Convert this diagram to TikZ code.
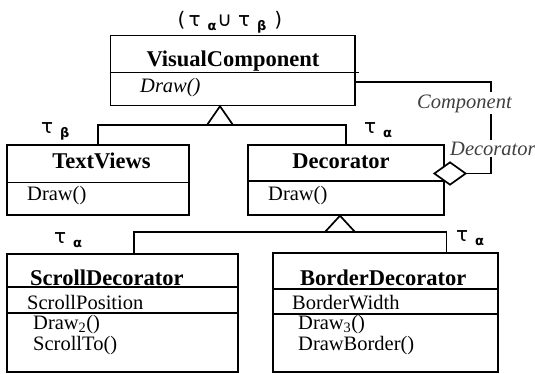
\documentclass[tikz,border=0pt]{standalone}
\usepackage{fontspec}
\setmainfont{Liberation Serif}
\newfontfamily\greekfont{DejaVu Sans}
\usetikzlibrary{arrows.meta,shapes.geometric,positioning,calc}

% type set label: tau with a lowered bold index
\newcommand{\tausub}[1]{τ\hspace{7pt}\raisebox{-4pt}{\fontsize{13}{13}\selectfont\bfseries #1}}

\begin{document}
\begin{tikzpicture}[x=1pt, y=-1pt,
    classbox/.style={draw, line width=1.7pt, inner sep=0pt, anchor=north west},
    classname/.style={font=\fontsize{22.5}{26}\selectfont\bfseries, inner sep=0pt, anchor=base},
    member/.style={font=\fontsize{20.5}{24}\selectfont, inner sep=0pt, anchor=base west},
    role/.style={font=\fontsize{20.5}{24}\selectfont\itshape, text=black!75, fill=white, inner sep=2pt, anchor=base west},
    tlabel/.style={font=\greekfont\fontsize{20}{22}\selectfont, inner sep=0pt, anchor=base west},
    conn/.style={line width=1.7pt},
    gen/.style={conn, fill=white, line join=miter}
]
\useasboundingbox (0,0) rectangle (535,373);

% class boxes
\node[classbox, minimum width=244.5pt, minimum height=70pt] (vc) at (109.5,34.5) {};
\node[classbox, minimum width=182pt, minimum height=70pt] (tv) at (6,144) {};
\node[classbox, minimum width=196pt, minimum height=70pt] (dec) at (247,144) {};
\node[classbox, minimum width=231pt, minimum height=118pt] (sd) at (6,253) {};
\node[classbox, minimum width=225pt, minimum height=119pt] (bd) at (272,252) {};

% compartment lines
\draw[conn] ($(vc.north west)+(0,38)$) -- ($(vc.north east)+(3,38)$);
\draw[conn] ($(tv.north west)+(0,38.5)$) -- ($(tv.north east)+(0,38.5)$);
\draw[conn] ($(dec.north west)+(0,37)$) -- ($(dec.north east)+(0,37)$);
\foreach \cls/\dy in {sd/34, sd/60, bd/37, bd/62}
    \draw[conn] ($(\cls.north west)+(0,\dy)$) -- ($(\cls.north east)+(0,\dy)$);

% names and members
\node[classname] (vcname) at (233,66) {VisualComponent};
\node[member, font=\fontsize{20.5}{24}\selectfont\itshape] (vcdraw) at (140,92) {Draw()};
\node[classname] (tvname) at (101.5,168) {TextViews};
\node[member] (tvdraw) at (27,200) {Draw()};
\node[classname] (decname) at (341,168) {Decorator};
\node[member] (decdraw) at (268,200) {Draw()};
\node[classname, anchor=base west] (sdname) at (30,285) {ScrollDecorator};
\node[member] (sdpos) at (27,309) {ScrollPosition};
\node[member] (sddraw) at (33,329) {Draw\textsubscript{2}()};
\node[member] (sdscroll) at (33,350) {ScrollTo()};
\node[classname, anchor=base west] (bdname) at (300,285) {BorderDecorator};
\node[member] (bdwidth) at (292,309) {BorderWidth};
\node[member] (bddraw) at (298,329) {Draw\textsubscript{3}()};
\node[member] (bdborder) at (298,350) {DrawBorder()};

% generalisation
\coordinate (hub1) at (220,125);
\draw[conn] (tv.north) |- (hub1) -| (dec.north);
\draw[gen] ($(hub1)+(-13,0)$) -- (hub1 |- vc.south) -- ($(hub1)+(13,0)$) -- cycle;
\coordinate (hub2) at (340,232);
\draw[conn] ($(sd.north west)!0.55!(sd.north east)$) |- (hub2) -| ($(bd.north west)!0.77!(bd.north east)$);
\draw[gen] ($(hub2)+(-15,0)$) -- (hub2 |- dec.south) -- ($(hub2)+(15,0)$) -- cycle;

% aggregation back to the component
\node[draw, diamond, line width=1.7pt, fill=white, inner sep=0pt,
      minimum width=32pt, minimum height=23pt] (agg) at (450,173.5) {};
\coordinate (corner) at (491,82);
\draw[conn] (agg.east) -| (corner) -- (corner -| vc.east);
\node[role] (comprole) at (415,108) {Component};
\node[role] (decrole) at (448,155) {Decorator};

% type sets
\node[tlabel, anchor=base] (vctype) at (230,26) {(\hspace{3pt}\tausub{α}\hspace{1pt}∪\hspace{6pt}\tausub{β}\hspace{8pt})};
\node[tlabel] (tvtype) at (41,133) {\tausub{β}};
\node[tlabel] (dectype) at (364,133) {\tausub{α}};
\node[tlabel] (sdtype) at (54,243) {\tausub{α}};
\node[tlabel] (bdtype) at (456,241) {\tausub{α}};
\end{tikzpicture}
\end{document}
